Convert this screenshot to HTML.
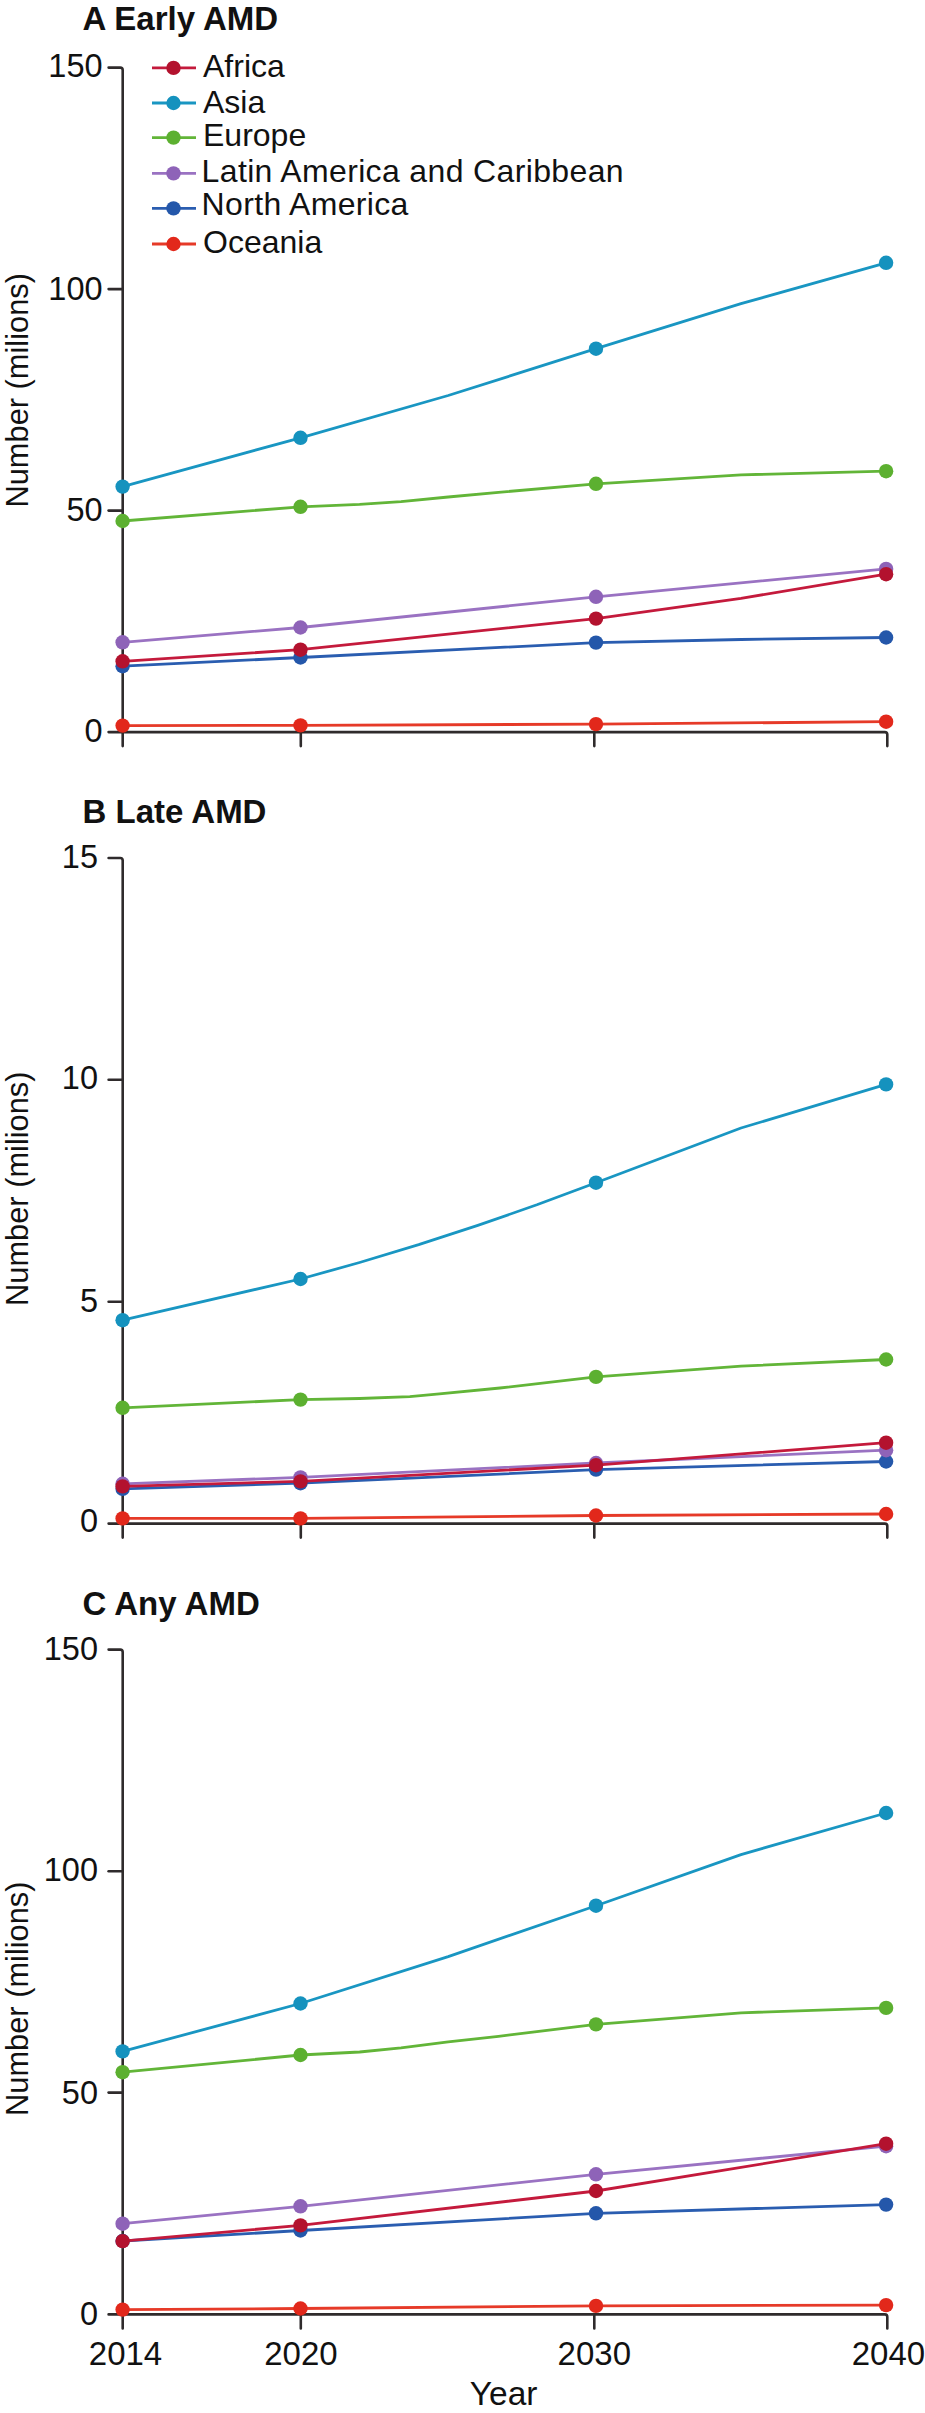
<!DOCTYPE html>
<html><head><meta charset="utf-8"><style>
html,body{margin:0;padding:0;background:#fff;}
svg{display:block;}
text{font-family:"Liberation Sans", sans-serif;fill:#111;}
</style></head><body>
<svg width="925" height="2413" viewBox="0 0 925 2413">
<text x="82.5" y="29.7" font-weight="bold" font-size="33">A Early AMD</text>
<text x="0" y="0" font-size="30.8" text-anchor="middle" transform="translate(27.7 390.3) rotate(-90)">Number (milions)</text>
<path d="M108.6 67.6 H120.2 Q122.7 67.6 122.7 70.1 V746.1 M108.6 732.1 H884.8 Q887.3 732.1 887.3 734.6 V746.1 M300.8 732.1 V746.1 M594.3 732.1 V746.1" fill="none" stroke="#2f2b2c" stroke-width="2.6" stroke-linejoin="round" stroke-linecap="round"/>
<text x="102.6" y="77.1" font-size="32.5" text-anchor="end">150</text>
<path d="M108.6 289.1 H122.7" stroke="#2f2b2c" stroke-width="2.6" stroke-linecap="round"/>
<text x="102.6" y="299.5" font-size="32.5" text-anchor="end">100</text>
<path d="M108.6 510.6 H122.7" stroke="#2f2b2c" stroke-width="2.6" stroke-linecap="round"/>
<text x="102.6" y="520.5" font-size="32.5" text-anchor="end">50</text>
<text x="102.6" y="742.2" font-size="32.5" text-anchor="end">0</text>
<polyline points="122.6,725.6 300.5,725.4 596.0,724.1 886.1,721.7" fill="none" stroke="#e63a28" stroke-width="2.8" stroke-linejoin="round"/>
<circle cx="122.6" cy="725.6" r="7.2" fill="#e2281b"/>
<circle cx="300.5" cy="725.4" r="7.2" fill="#e2281b"/>
<circle cx="596.0" cy="724.1" r="7.2" fill="#e2281b"/>
<circle cx="886.1" cy="721.7" r="7.2" fill="#e2281b"/>
<polyline points="122.6,666.2 300.5,657.5 596.0,642.6 741.0,639.5 886.1,637.5" fill="none" stroke="#2a5db0" stroke-width="2.8" stroke-linejoin="round"/>
<circle cx="122.6" cy="666.2" r="7.2" fill="#2457aa"/>
<circle cx="300.5" cy="657.5" r="7.2" fill="#2457aa"/>
<circle cx="596.0" cy="642.6" r="7.2" fill="#2457aa"/>
<circle cx="886.1" cy="637.5" r="7.2" fill="#2457aa"/>
<polyline points="122.6,642.3 300.5,627.5 596.0,596.8 886.1,568.9" fill="none" stroke="#9a72c2" stroke-width="2.8" stroke-linejoin="round"/>
<circle cx="122.6" cy="642.3" r="7.2" fill="#8e63b8"/>
<circle cx="300.5" cy="627.5" r="7.2" fill="#8e63b8"/>
<circle cx="596.0" cy="596.8" r="7.2" fill="#8e63b8"/>
<circle cx="886.1" cy="568.9" r="7.2" fill="#8e63b8"/>
<polyline points="122.6,521.0 300.5,506.8 359.6,504.4 401.0,501.6 448.2,497.0 498.5,492.3 596.0,483.8 741.0,474.8 886.1,471.2" fill="none" stroke="#62b538" stroke-width="2.8" stroke-linejoin="round"/>
<circle cx="122.6" cy="521.0" r="7.2" fill="#5cb030"/>
<circle cx="300.5" cy="506.8" r="7.2" fill="#5cb030"/>
<circle cx="596.0" cy="483.8" r="7.2" fill="#5cb030"/>
<circle cx="886.1" cy="471.2" r="7.2" fill="#5cb030"/>
<polyline points="122.6,486.6 300.5,437.8 448.2,395.5 596.0,348.7 741.0,303.7 886.1,262.8" fill="none" stroke="#1996c2" stroke-width="2.8" stroke-linejoin="round"/>
<circle cx="122.6" cy="486.6" r="7.2" fill="#1592be"/>
<circle cx="300.5" cy="437.8" r="7.2" fill="#1592be"/>
<circle cx="596.0" cy="348.7" r="7.2" fill="#1592be"/>
<circle cx="886.1" cy="262.8" r="7.2" fill="#1592be"/>
<polyline points="122.6,661.3 300.5,649.7 596.0,618.6 741.0,598.3 886.1,574.2" fill="none" stroke="#c41a3c" stroke-width="2.8" stroke-linejoin="round"/>
<circle cx="122.6" cy="661.3" r="7.2" fill="#b3122e"/>
<circle cx="300.5" cy="649.7" r="7.2" fill="#b3122e"/>
<circle cx="596.0" cy="618.6" r="7.2" fill="#b3122e"/>
<circle cx="886.1" cy="574.2" r="7.2" fill="#b3122e"/>
<path d="M152 67.9 H196" stroke="#c41a3c" stroke-width="2.8"/>
<circle cx="173.5" cy="67.9" r="7.2" fill="#b3122e"/>
<text x="203" y="76.5" font-size="32">Africa</text>
<path d="M152 103.0 H196" stroke="#1996c2" stroke-width="2.8"/>
<circle cx="173.5" cy="103.0" r="7.2" fill="#1592be"/>
<text x="203" y="113.1" font-size="32">Asia</text>
<path d="M152 137.6 H196" stroke="#62b538" stroke-width="2.8"/>
<circle cx="173.5" cy="137.6" r="7.2" fill="#5cb030"/>
<text x="203" y="145.6" font-size="32">Europe</text>
<path d="M152 173.4 H196" stroke="#9a72c2" stroke-width="2.8"/>
<circle cx="173.5" cy="173.4" r="7.2" fill="#8e63b8"/>
<text x="201.6" y="181.8" font-size="32" textLength="422" lengthAdjust="spacing">Latin America and Caribbean</text>
<path d="M152 208.4 H196" stroke="#2a5db0" stroke-width="2.8"/>
<circle cx="173.5" cy="208.4" r="7.2" fill="#2457aa"/>
<text x="201.6" y="215.1" font-size="32" textLength="206.8" lengthAdjust="spacing">North America</text>
<path d="M152 244.0 H196" stroke="#e63a28" stroke-width="2.8"/>
<circle cx="173.5" cy="244.0" r="7.2" fill="#e2281b"/>
<text x="203" y="252.9" font-size="32">Oceania</text>
<text x="82.5" y="822.8" font-weight="bold" font-size="33">B Late AMD</text>
<text x="0" y="0" font-size="30.8" text-anchor="middle" transform="translate(27.7 1188.7) rotate(-90)">Number (milions)</text>
<path d="M108.6 858.0 H120.2 Q122.7 858.0 122.7 860.5 V1537.6 M108.6 1523.6 H884.8 Q887.3 1523.6 887.3 1526.1 V1537.6 M300.8 1523.6 V1537.6 M594.3 1523.6 V1537.6" fill="none" stroke="#2f2b2c" stroke-width="2.6" stroke-linejoin="round" stroke-linecap="round"/>
<text x="98.0" y="867.5" font-size="32.5" text-anchor="end">15</text>
<path d="M108.6 1079.8 H122.7" stroke="#2f2b2c" stroke-width="2.6" stroke-linecap="round"/>
<text x="98.0" y="1088.9" font-size="32.5" text-anchor="end">10</text>
<path d="M108.6 1301.7 H122.7" stroke="#2f2b2c" stroke-width="2.6" stroke-linecap="round"/>
<text x="98.0" y="1312.0" font-size="32.5" text-anchor="end">5</text>
<text x="98.0" y="1531.6" font-size="32.5" text-anchor="end">0</text>
<polyline points="122.6,1518.4 300.5,1518.4 596.0,1515.5 886.1,1514.0" fill="none" stroke="#e63a28" stroke-width="2.8" stroke-linejoin="round"/>
<circle cx="122.6" cy="1518.4" r="7.2" fill="#e2281b"/>
<circle cx="300.5" cy="1518.4" r="7.2" fill="#e2281b"/>
<circle cx="596.0" cy="1515.5" r="7.2" fill="#e2281b"/>
<circle cx="886.1" cy="1514.0" r="7.2" fill="#e2281b"/>
<polyline points="122.6,1488.8 300.5,1483.2 596.0,1469.6 886.1,1461.5" fill="none" stroke="#2a5db0" stroke-width="2.8" stroke-linejoin="round"/>
<circle cx="122.6" cy="1488.8" r="7.2" fill="#2457aa"/>
<circle cx="300.5" cy="1483.2" r="7.2" fill="#2457aa"/>
<circle cx="596.0" cy="1469.6" r="7.2" fill="#2457aa"/>
<circle cx="886.1" cy="1461.5" r="7.2" fill="#2457aa"/>
<polyline points="122.6,1483.8 300.5,1477.4 596.0,1463.0 886.1,1450.2" fill="none" stroke="#9a72c2" stroke-width="2.8" stroke-linejoin="round"/>
<circle cx="122.6" cy="1483.8" r="7.2" fill="#8e63b8"/>
<circle cx="300.5" cy="1477.4" r="7.2" fill="#8e63b8"/>
<circle cx="596.0" cy="1463.0" r="7.2" fill="#8e63b8"/>
<circle cx="886.1" cy="1450.2" r="7.2" fill="#8e63b8"/>
<polyline points="122.6,1407.8 300.5,1399.6 359.6,1398.5 409.8,1396.6 439.4,1393.9 500.0,1388.0 596.0,1376.9 741.0,1366.1 886.1,1359.5" fill="none" stroke="#62b538" stroke-width="2.8" stroke-linejoin="round"/>
<circle cx="122.6" cy="1407.8" r="7.2" fill="#5cb030"/>
<circle cx="300.5" cy="1399.6" r="7.2" fill="#5cb030"/>
<circle cx="596.0" cy="1376.9" r="7.2" fill="#5cb030"/>
<circle cx="886.1" cy="1359.5" r="7.2" fill="#5cb030"/>
<polyline points="122.6,1320.2 300.5,1279.0 359.6,1262.5 418.7,1244.7 477.8,1225.4 536.9,1204.8 596.0,1182.7 741.0,1128.0 886.1,1084.4" fill="none" stroke="#1996c2" stroke-width="2.8" stroke-linejoin="round"/>
<circle cx="122.6" cy="1320.2" r="7.2" fill="#1592be"/>
<circle cx="300.5" cy="1279.0" r="7.2" fill="#1592be"/>
<circle cx="596.0" cy="1182.7" r="7.2" fill="#1592be"/>
<circle cx="886.1" cy="1084.4" r="7.2" fill="#1592be"/>
<polyline points="122.6,1486.4 300.5,1481.4 596.0,1465.2 886.1,1442.7" fill="none" stroke="#c41a3c" stroke-width="2.8" stroke-linejoin="round"/>
<circle cx="122.6" cy="1486.4" r="7.2" fill="#b3122e"/>
<circle cx="300.5" cy="1481.4" r="7.2" fill="#b3122e"/>
<circle cx="596.0" cy="1465.2" r="7.2" fill="#b3122e"/>
<circle cx="886.1" cy="1442.7" r="7.2" fill="#b3122e"/>
<text x="82.5" y="1614.8" font-weight="bold" font-size="33">C Any AMD</text>
<text x="0" y="0" font-size="30.8" text-anchor="middle" transform="translate(27.7 1998.7) rotate(-90)">Number (milions)</text>
<path d="M108.6 1649.6 H120.2 Q122.7 1649.6 122.7 1652.1 V2328.4 M108.6 2314.4 H884.8 Q887.3 2314.4 887.3 2316.9 V2328.4 M300.8 2314.4 V2328.4 M594.3 2314.4 V2328.4" fill="none" stroke="#2f2b2c" stroke-width="2.6" stroke-linejoin="round" stroke-linecap="round"/>
<text x="98.0" y="1659.7" font-size="32.5" text-anchor="end">150</text>
<path d="M108.6 1871.2 H122.7" stroke="#2f2b2c" stroke-width="2.6" stroke-linecap="round"/>
<text x="98.0" y="1880.7" font-size="32.5" text-anchor="end">100</text>
<path d="M108.6 2092.6 H122.7" stroke="#2f2b2c" stroke-width="2.6" stroke-linecap="round"/>
<text x="98.0" y="2104.1" font-size="32.5" text-anchor="end">50</text>
<text x="98.0" y="2325.0" font-size="32.5" text-anchor="end">0</text>
<polyline points="122.6,2309.6 300.5,2308.5 596.0,2305.9 886.1,2305.1" fill="none" stroke="#e63a28" stroke-width="2.8" stroke-linejoin="round"/>
<circle cx="122.6" cy="2309.6" r="7.2" fill="#e2281b"/>
<circle cx="300.5" cy="2308.5" r="7.2" fill="#e2281b"/>
<circle cx="596.0" cy="2305.9" r="7.2" fill="#e2281b"/>
<circle cx="886.1" cy="2305.1" r="7.2" fill="#e2281b"/>
<polyline points="122.6,2241.0 300.5,2230.5 596.0,2213.3 886.1,2204.6" fill="none" stroke="#2a5db0" stroke-width="2.8" stroke-linejoin="round"/>
<circle cx="122.6" cy="2241.0" r="7.2" fill="#2457aa"/>
<circle cx="300.5" cy="2230.5" r="7.2" fill="#2457aa"/>
<circle cx="596.0" cy="2213.3" r="7.2" fill="#2457aa"/>
<circle cx="886.1" cy="2204.6" r="7.2" fill="#2457aa"/>
<polyline points="122.6,2223.7 300.5,2206.3 596.0,2174.3 886.1,2146.2" fill="none" stroke="#9a72c2" stroke-width="2.8" stroke-linejoin="round"/>
<circle cx="122.6" cy="2223.7" r="7.2" fill="#8e63b8"/>
<circle cx="300.5" cy="2206.3" r="7.2" fill="#8e63b8"/>
<circle cx="596.0" cy="2174.3" r="7.2" fill="#8e63b8"/>
<circle cx="886.1" cy="2146.2" r="7.2" fill="#8e63b8"/>
<polyline points="122.6,2072.2 300.5,2055.0 359.6,2052.0 401.0,2047.8 448.2,2041.8 498.5,2036.3 596.0,2024.4 741.0,2012.8 886.1,2007.9" fill="none" stroke="#62b538" stroke-width="2.8" stroke-linejoin="round"/>
<circle cx="122.6" cy="2072.2" r="7.2" fill="#5cb030"/>
<circle cx="300.5" cy="2055.0" r="7.2" fill="#5cb030"/>
<circle cx="596.0" cy="2024.4" r="7.2" fill="#5cb030"/>
<circle cx="886.1" cy="2007.9" r="7.2" fill="#5cb030"/>
<polyline points="122.6,2051.4 300.5,2003.5 448.2,1956.6 596.0,1905.7 741.0,1854.6 886.1,1813.0" fill="none" stroke="#1996c2" stroke-width="2.8" stroke-linejoin="round"/>
<circle cx="122.6" cy="2051.4" r="7.2" fill="#1592be"/>
<circle cx="300.5" cy="2003.5" r="7.2" fill="#1592be"/>
<circle cx="596.0" cy="1905.7" r="7.2" fill="#1592be"/>
<circle cx="886.1" cy="1813.0" r="7.2" fill="#1592be"/>
<polyline points="122.6,2241.1 300.5,2225.4 596.0,2191.0 886.1,2143.7" fill="none" stroke="#c41a3c" stroke-width="2.8" stroke-linejoin="round"/>
<circle cx="122.6" cy="2241.1" r="7.2" fill="#b3122e"/>
<circle cx="300.5" cy="2225.4" r="7.2" fill="#b3122e"/>
<circle cx="596.0" cy="2191.0" r="7.2" fill="#b3122e"/>
<circle cx="886.1" cy="2143.7" r="7.2" fill="#b3122e"/>
<text x="125.5" y="2364.6" font-size="33" text-anchor="middle">2014</text>
<text x="300.9" y="2364.6" font-size="33" text-anchor="middle">2020</text>
<text x="594.3" y="2364.6" font-size="33" text-anchor="middle">2030</text>
<text x="888.4" y="2364.6" font-size="33" text-anchor="middle">2040</text>
<text x="503.6" y="2405.2" font-size="33.5" text-anchor="middle">Year</text>
</svg>
</body></html>
